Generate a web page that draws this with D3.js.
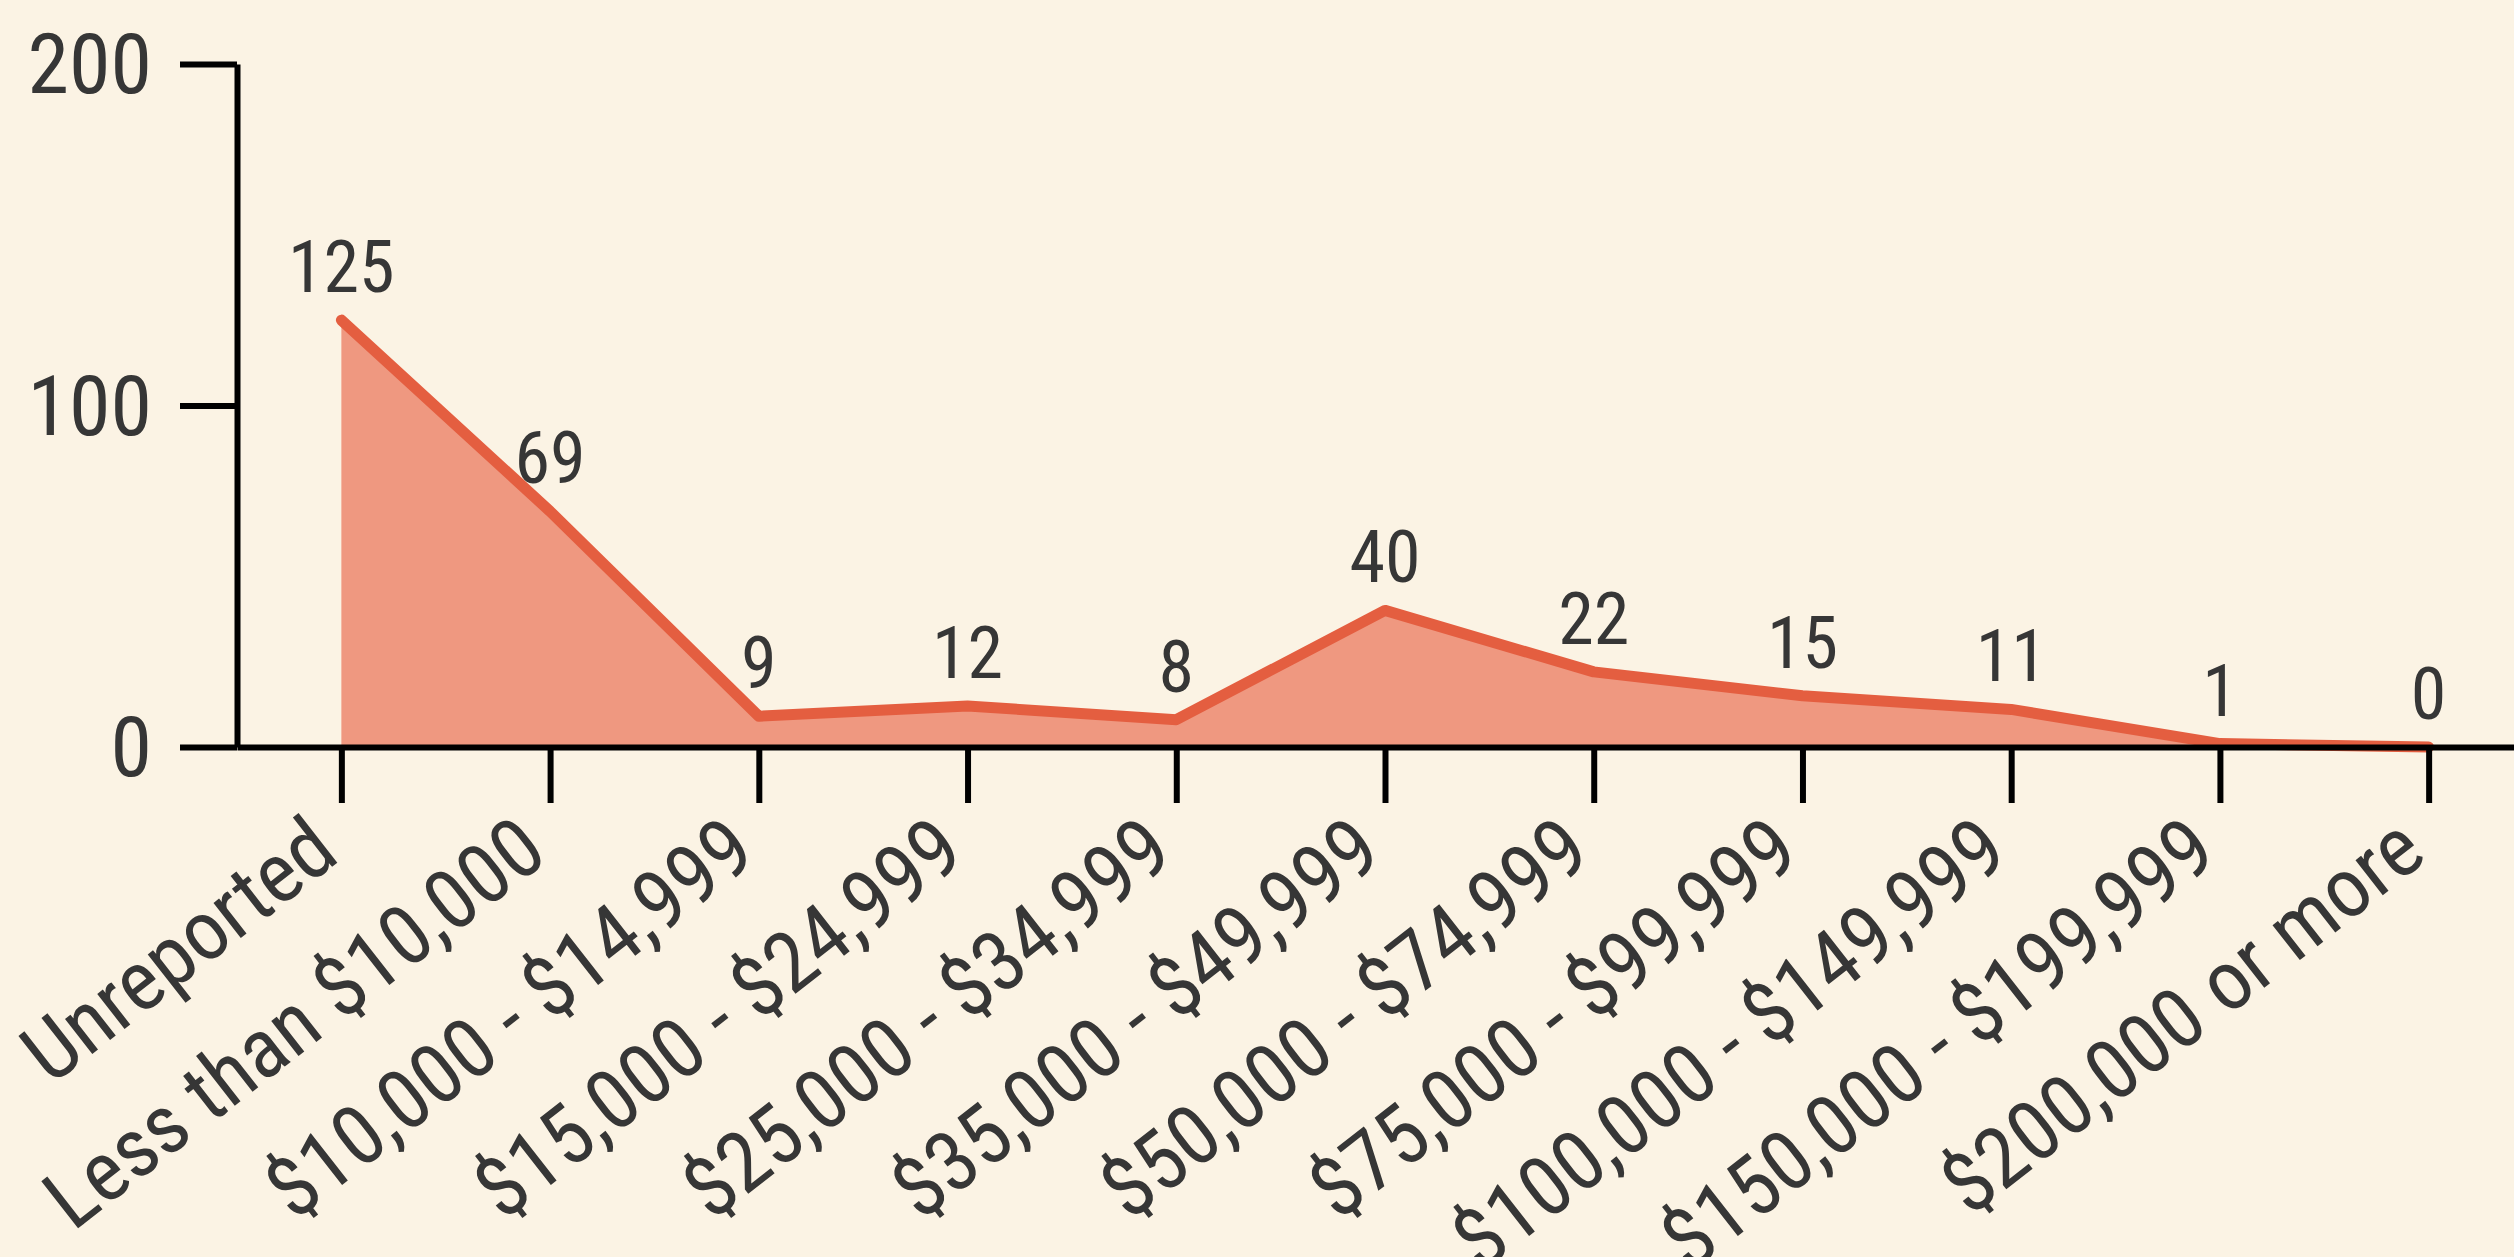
<!DOCTYPE html>
<html>
<head>
<meta charset="utf-8">
<script src="https://cdn.jsdelivr.net/npm/d3@7"></script>
<style>
  body { margin: 0; background: #fbf3e4; }
  svg { display: block; }
  text { font-family: "Roboto Condensed", "Liberation Sans Narrow", "Arial Narrow", Roboto, sans-serif; fill: #363636; }
</style>
</head>
<body>
<svg id="chart" width="2514" height="1257"></svg>
<script>
// income brackets and counts
const categories = ["Unreported", "Less than $10,000", "$10,000 - $14,999", "$15,000 - $24,999",
  "$25,000 - $34,999", "$35,000 - $49,999", "$50,000 - $74,999", "$75,000 - $99,999",
  "$100,000 - $149,999", "$150,000 - $199,999", "$200,000 or more"];
const counts = [125, 69, 9, 12, 8, 40, 22, 15, 11, 1, 0];
const yTicks = [0, 100, 200];

const data = categories.map((c, i) => ({cat: c, n: counts[i]}));

const svg = d3.select("#chart");

const x = d3.scalePoint()
  .domain(categories)
  .range([237, 2533])
  .padding(0.5);

const y = d3.scaleLinear()
  .domain([0, 200])
  .range([747, 64]);

// area + line
const area = d3.area()
  .x(d => x(d.cat))
  .y0(y(0))
  .y1(d => y(d.n));

const line = d3.line()
  .x(d => x(d.cat))
  .y(d => y(d.n));

svg.append("path")
  .attr("d", area(data))
  .attr("fill", "#ef9880");

svg.append("path")
  .attr("d", line(data))
  .attr("fill", "none")
  .attr("stroke", "#e45e40")
  .attr("stroke-width", 11)
  .attr("stroke-linecap", "round")
  .attr("stroke-linejoin", "round");

// value labels
svg.append("g")
  .selectAll("text")
  .data(data)
  .enter()
  .append("text")
  .attr("x", d => x(d.cat))
  .attr("y", d => y(d.n) - 28)
  .attr("text-anchor", "middle")
  .style("font-size", "72px")
  .text(d => d.n);

// y axis
const yAxis = svg.append("g")
  .attr("transform", "translate(237,0)")
  .call(d3.axisLeft(y).tickValues(yTicks).tickSize(57).tickPadding(28).tickSizeOuter(0));

yAxis.selectAll("text")
  .style("font-size", "84px")
  .attr("dy", "0.34em");

// x axis
const xAxis = svg.append("g")
  .attr("transform", "translate(0," + y(0) + ")")
  .call(d3.axisBottom(x).tickSize(56).tickSizeOuter(0));

xAxis.selectAll("text")
  .style("font-size", "84px")
  .attr("text-anchor", "end")
  .attr("y", 0)
  .attr("dy", 0)
  .attr("transform", "translate(0,112) rotate(-38)");

svg.selectAll(".domain, .tick line")
  .attr("stroke", "#000")
  .attr("stroke-width", 6);
</script>
</body>
</html>
